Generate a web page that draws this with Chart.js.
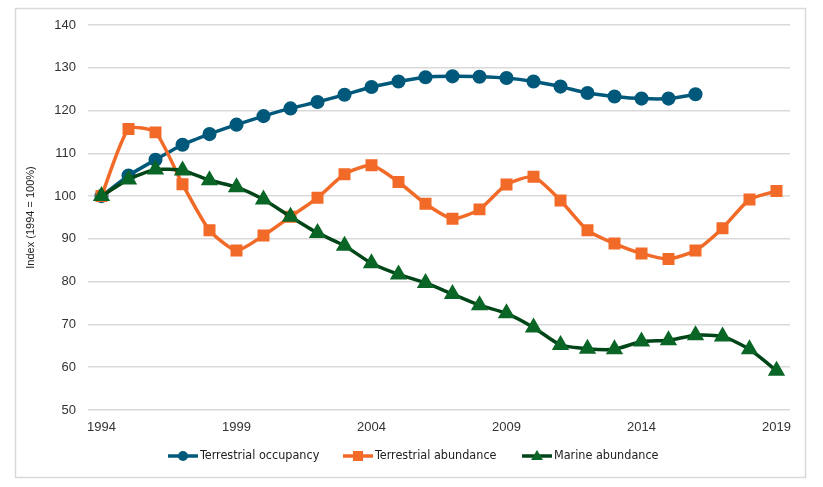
<!DOCTYPE html>
<html>
<head>
<meta charset="utf-8">
<script src="https://cdn.jsdelivr.net/npm/chart.js@4"></script>
<style>
  html, body { margin: 0; padding: 0; background: #fff; }
  #wrap { position: relative; width: 823px; height: 487px; }
</style>
</head>
<body>
<div id="wrap"><canvas id="chart"></canvas></div>
<script>
const years = [];
for (let y = 1994; y <= 2019; y++) years.push(String(y));

const terrestrialOccupancy = [100, 104.8, 108.5, 112, 114.5, 116.7, 118.7, 120.5, 122, 123.7, 125.5, 126.8,
  127.8, 128, 127.9, 127.6, 126.8, 125.6, 124.1, 123.3, 122.8, 122.8, 123.8];
const terrestrialAbundance = [100, 115.7, 114.9, 102.8, 92.0, 87.3, 90.8, 95.2, 99.6, 105.1, 107.2, 103.3,
  98.2, 94.7, 96.9, 102.7, 104.5, 99.0, 92.0, 88.9, 86.6, 85.3, 87.3, 92.5, 99.2, 101.2];
const marineAbundance = [100, 103.9, 106.2, 106.0, 103.7, 102.1, 99.2, 95.2, 91.4, 88.4, 84.3, 81.7,
  79.7, 77.1, 74.5, 72.6, 69.3, 65.2, 64.3, 64.2, 66.0, 66.3, 67.5, 67.2, 64.2, 59.2];
const seriesNames = ["Terrestrial occupancy", "Terrestrial abundance", "Marine abundance"];
const yTicks = [50, 60, 70, 80, 90, 100, 110, 120, 130, 140];

// draws the outer frame and the line+marker legend underneath
const frameLegend = {
  id: "frameLegend",
  afterDraw(chart) {
    const ctx = chart.ctx;
    ctx.save();
    ctx.strokeStyle = "#d9d9d9";
    ctx.lineWidth = 1.5;
    ctx.strokeRect(15.5, 8.5, 790, 469);

    const items = [
      { x: 168 }, { x: 343 }, { x: 522 }
    ];
    const yy = 456;
    ctx.font = "12.5px 'DejaVu Sans Condensed', 'DejaVu Sans'";
    ctx.textBaseline = "middle";
    chart.data.datasets.forEach((ds, i) => {
      const x0 = items[i].x;
      ctx.strokeStyle = ds.borderColor;
      ctx.lineWidth = 3.5;
      ctx.beginPath();
      ctx.moveTo(x0, yy);
      ctx.lineTo(x0 + 30, yy);
      ctx.stroke();
      ctx.fillStyle = ds.pointBackgroundColor;
      const cx = x0 + 15;
      ctx.beginPath();
      if (ds.pointStyle === "circle") {
        ctx.arc(cx, yy, 5, 0, Math.PI * 2);
      } else if (ds.pointStyle === "rect") {
        ctx.rect(cx - 5, yy - 5, 10, 10);
      } else {
        ctx.moveTo(cx, yy - 6);
        ctx.lineTo(cx + 6, yy + 4);
        ctx.lineTo(cx - 6, yy + 4);
        ctx.closePath();
      }
      ctx.fill();
      ctx.fillStyle = "#222";
      ctx.fillText(ds.label, x0 + 32, yy);
    });
    ctx.restore();
  }
};

new Chart(document.getElementById("chart"), {
  type: "line",
  data: {
    labels: years,
    datasets: [
      {
        label: seriesNames[0],
        data: terrestrialOccupancy,
        borderColor: "#00587a",
        pointBackgroundColor: "#00587a",
        pointBorderColor: "#00587a",
        pointStyle: "circle",
        pointRadius: 5.3,
        borderWidth: 3.5,
        tension: 0.2,
        order: 2,
      },
      {
        label: seriesNames[1],
        data: terrestrialAbundance,
        borderColor: "#f26a27",
        pointBackgroundColor: "#f26a27",
        pointBorderColor: "#f26a27",
        pointStyle: "rect",
        pointRadius: 6,
        borderWidth: 3.5,
        tension: 0.2,
        order: 1,
      },
      {
        label: seriesNames[2],
        data: marineAbundance,
        borderColor: "#004517",
        pointBackgroundColor: "#0a6626",
        pointBorderColor: "#0a6626",
        pointStyle: "triangle",
        pointRadius: 6.5,
        borderWidth: 3.5,
        tension: 0.2,
        order: 0,
      },
    ],
  },
  options: {
    responsive: true,
    maintainAspectRatio: false,
    animation: false,
    layout: { padding: { left: 15, right: 33, top: 25, bottom: 9 } },
    scales: {
      x: {
        offset: true,
        grid: { display: false, drawTicks: false },
        border: { display: false },
        ticks: {
          autoSkip: false,
          maxRotation: 0,
          padding: 10,
          color: "#333",
          font: { family: "'Liberation Sans', Arial", size: 13 },
          callback: function (v, i) { return i % 5 === 0 ? years[i] : ""; },
        },
        afterFit: (s) => { s.height = 68; },
      },
      y: {
        min: 50,
        max: 140,
        afterBuildTicks: (s) => { s.ticks = yTicks.map(v => ({ value: v })); },
        grid: { color: "#d9d9d9", lineWidth: 1.5, drawTicks: false },
        border: { display: false },
        ticks: {
          padding: 12,
          color: "#333",
          font: { family: "'Liberation Sans', Arial", size: 13 },
        },
        title: {
          display: true,
          text: "Index (1994 = 100%)",
          color: "#222",
          font: { family: "'Liberation Sans', Arial", size: 11 },
          padding: { top: 9, bottom: 4 },
        },
        afterFit: (s) => { s.width = 73; },
      },
    },
    plugins: {
      legend: { display: false },
      tooltip: { enabled: false },
    },
  },
  plugins: [frameLegend],
});
</script>
</body>
</html>
